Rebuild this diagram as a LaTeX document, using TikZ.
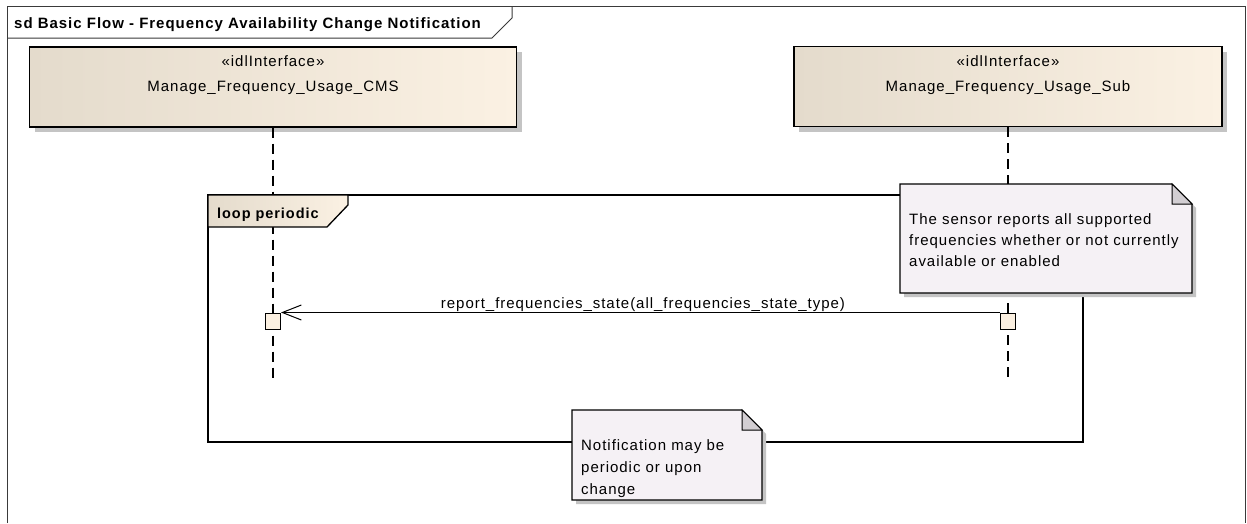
\documentclass[tikz,border=0pt]{standalone}
\usepackage{fontspec}
\setmainfont[LetterSpace=6.5]{Liberation Sans}
\usetikzlibrary{arrows.meta,shadows}
\definecolor{boxL}{HTML}{E4DBCC}
\definecolor{boxR}{HTML}{FBF1E3}
\definecolor{actfill}{HTML}{FBF0E1}
\definecolor{notefill}{HTML}{F5F1F5}
\definecolor{foldfill}{HTML}{D2CED2}
\definecolor{shadowc}{HTML}{C4C4C4}
\definecolor{framec}{HTML}{3A3A3A}
\begin{document}
\begin{tikzpicture}[x=1pt,y=-1pt,
  txt/.style={font=\fontsize{15}{21}\selectfont, inner sep=0pt},
  btxt/.style={font=\bfseries\fontsize{14.5}{18}\selectfont, inner sep=0pt},
  lifebox/.style={draw=black, line width=1.3pt, left color=boxL, right color=boxR,
    drop shadow={shadow xshift=5pt, shadow yshift=-5pt, fill=shadowc, opacity=1}},
  lifeline/.style={line width=1.1pt, dash pattern=on 10pt off 6pt},
  actbox/.style={draw=black, fill=actfill, line width=1pt, minimum width=15pt, minimum height=16pt, inner sep=0pt},
  msg/.style={line width=1pt, -{Straight Barb[length=19pt,width=15pt]}},
  notebody/.style={fill=notefill, draw=black, line width=1.3pt, line join=miter},
  frag/.style={draw=black, line width=1.3pt},
  framel/.style={draw=framec, line width=1pt}
]
\useasboundingbox (0,0) rectangle (1247,523);
\fill[white] (0,0) rectangle (1247,523);

% outer frame
\draw[framel] (7,523) -- (7,6) -- (1245,6) -- (1245,523);
\draw[framel] (7,38) -- (492,38) -- (512,18) -- (512,6);
\node[btxt, anchor=base west, font=\bfseries\fontsize{15}{18}\selectfont] (title) at (14,28) {sd Basic Flow - Frequency Availability Change Notification};

% lifeline heads
\node[lifebox, minimum width=487pt, minimum height=80pt] (cms) at (273,87) {};
\node[txt, anchor=base] (cmsst) at (273,66) {«idlInterface»};
\node[txt, anchor=base] (cmsname) at (273,91) {Manage\_Frequency\_Usage\_CMS};
\node[lifebox, minimum width=428pt, minimum height=80pt] (sub) at (1008,86.5) {};
\node[txt, anchor=base] (subst) at (1008,66) {«idlInterface»};
\node[txt, anchor=base] (subname) at (1008,91) {Manage\_Frequency\_Usage\_Sub};

% lifelines
\coordinate (cmsend) at (273,378);
\coordinate (subend) at (1008,378);
\draw[lifeline] (cms.south) -- (cmsend);
\draw[lifeline] (sub.south) -- (subend);

% loop fragment
\node[frag, minimum width=875pt, minimum height=247pt, inner sep=0pt] (loop) at (645.5,318.5) {};
\draw[frag, left color=boxL, right color=boxR] (208,195) -- (348,195) -- (348,205) -- (327,227) -- (208,227) -- cycle;
\node[btxt, anchor=base west] (looplbl) at (217,218) {loop periodic};

% note 1
\fill[shadowc] (904,188) -- (1176,188) -- (1196,208) -- (1196,297) -- (904,297) -- cycle;
\draw[notebody] (900,184) -- (1172,184) -- (1192,204) -- (1192,293) -- (900,293) -- cycle;
\draw[fill=foldfill, draw=black, line width=1pt] (1172,184) -- (1172,204) -- (1192,204) -- cycle;
\node[txt, anchor=north west, align=left] (note1) at (909,213.5)
  {The sensor reports all supported\\frequencies whether or not currently\\available or enabled};

% note 2
\fill[shadowc] (576,414) -- (746,414) -- (766,434) -- (766,504) -- (576,504) -- cycle;
\draw[notebody] (572,410) -- (742,410) -- (762,430) -- (762,500) -- (572,500) -- cycle;
\draw[fill=foldfill, draw=black, line width=1pt] (742,410) -- (742,430) -- (762,430) -- cycle;
\node[txt, anchor=north west, align=left, font=\fontsize{15}{22}\selectfont] (note2) at (581,439)
  {Notification may be\\periodic or upon\\change};

% activations and message
\node[actbox] (cmsact) at (273,321) {};
\node[actbox] (subact) at (1008,321) {};
\draw[msg] (subact.north west) -- (cmsact.north east);
\node[txt, anchor=base] (msglbl) at (643,308) {report\_frequencies\_state(all\_frequencies\_state\_type)};
\end{tikzpicture}
\end{document}
